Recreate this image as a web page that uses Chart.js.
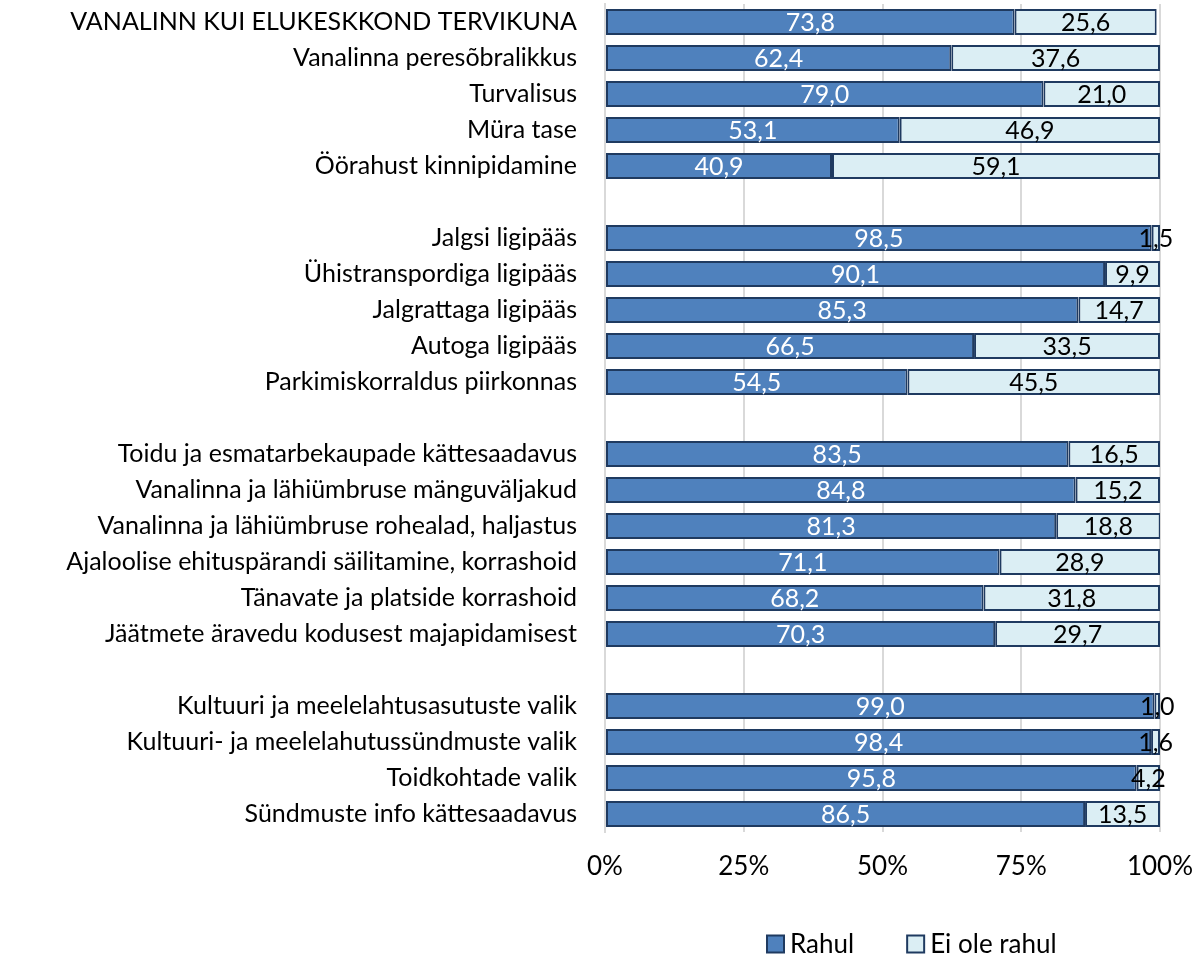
<!DOCTYPE html>
<html>
<head>
<meta charset="utf-8">
<script src="https://cdn.jsdelivr.net/npm/chart.js@4"></script>
<style>
  html, body { margin: 0; padding: 0; background: #fff; }
  #wrap { width: 1196px; height: 956px; }
</style>
</head>
<body>
<div id="wrap"><canvas id="satisfactionChart"></canvas></div>
<script>
// blank labels are the gaps between topic groups
const categories = [
    'VANALINN KUI ELUKESKKOND TERVIKUNA',
    'Vanalinna peresõbralikkus',
    'Turvalisus',
    'Müra tase',
    'Öörahust kinnipidamine',
    '',
    'Jalgsi ligipääs',
    'Ühistranspordiga ligipääs',
    'Jalgrattaga ligipääs',
    'Autoga ligipääs',
    'Parkimiskorraldus piirkonnas',
    '',
    'Toidu ja esmatarbekaupade kättesaadavus',
    'Vanalinna ja lähiümbruse mänguväljakud',
    'Vanalinna ja lähiümbruse rohealad, haljastus',
    'Ajaloolise ehituspärandi säilitamine, korrashoid',
    'Tänavate ja platside korrashoid',
    'Jäätmete äravedu kodusest majapidamisest',
    '',
    'Kultuuri ja meelelahtusasutuste valik',
    'Kultuuri- ja meelelahutussündmuste valik',
    'Toidkohtade valik',
    'Sündmuste info kättesaadavus'
];

const rahul = [73.8, 62.4, 79.0, 53.1, 40.9, null,
    98.5, 90.1, 85.3, 66.5, 54.5, null,
    83.5, 84.8, 81.3, 71.1, 68.2, 70.3, null,
    99.0, 98.4, 95.8, 86.5];

const eiOleRahul = [25.6, 37.6, 21.0, 46.9, 59.1, null,
    1.5, 9.9, 14.7, 33.5, 45.5, null,
    16.5, 15.2, 18.8, 28.9, 31.8, 29.7, null,
    1.0, 1.6, 4.2, 13.5];

const xTicks = [0, 25, 50, 75, 100];

const FONT = 'Lato, "Open Sans", sans-serif';

// writes the value in the middle of each segment, comma as decimal mark
const segmentLabels = {
    id: 'segmentLabels',
    afterDatasetsDraw(chart) {
        const ctx = chart.ctx;
        ctx.save();
        ctx.font = '25px ' + FONT;
        ctx.textAlign = 'center';
        ctx.textBaseline = 'middle';
        chart.data.datasets.forEach((ds, di) => {
            const meta = chart.getDatasetMeta(di);
            meta.data.forEach((bar, i) => {
                const v = ds.data[i];
                if (v === null || v === undefined) return;
                const x = (bar.x + bar.base) / 2;
                ctx.fillStyle = ds.labelColor;
                ctx.fillText(v.toFixed(1).replace('.', ','), x, bar.y + 1);
            });
        });
        ctx.restore();
    }
};

// small legend under the axis, like the original one
const bottomLegend = {
    id: 'bottomLegend',
    afterDraw(chart) {
        const ctx = chart.ctx;
        const box = 17, gapText = 6, gapItem = 53;
        const y = 944;
        let x = 767;
        ctx.save();
        ctx.font = '26px ' + FONT;
        ctx.textBaseline = 'middle';
        chart.data.datasets.forEach(ds => {
            ctx.fillStyle = ds.backgroundColor;
            ctx.fillRect(x, y - box / 2, box, box);
            ctx.strokeStyle = ds.borderColor;
            ctx.lineWidth = 2;
            ctx.strokeRect(x, y - box / 2, box, box);
            x += box + gapText;
            ctx.fillStyle = '#000';
            ctx.fillText(ds.label, x, y + 1);
            x += ctx.measureText(ds.label).width + gapItem;
        });
        ctx.restore();
    }
};

const ctx = document.getElementById('satisfactionChart').getContext('2d');
const chart = new Chart(ctx, {
    type: 'bar',
    data: {
        labels: categories,
        datasets: [{
            label: 'Rahul',
            data: rahul,
            backgroundColor: '#4f81bd',
            borderColor: '#1f3a60',
            borderWidth: 2,
            borderSkipped: false,
            labelColor: '#ffffff'
        }, {
            label: 'Ei ole rahul',
            data: eiOleRahul,
            backgroundColor: '#dbeef4',
            borderColor: '#1f3a60',
            borderWidth: 2,
            borderSkipped: false,
            labelColor: '#000000'
        }]
    },
    options: {
        indexAxis: 'y',
        responsive: true,
        maintainAspectRatio: false,
        animation: false,
        layout: { padding: { top: 4, right: 36, bottom: 0, left: 0 } },
        datasets: {
            bar: { categoryPercentage: 1, barPercentage: 0.72 }
        },
        scales: {
            x: {
                stacked: true,
                min: 0,
                max: 100,
                afterBuildTicks(scale) {
                    scale.ticks = xTicks.map(v => ({ value: v }));
                },
                afterFit(scale) {
                    scale.height = 124;
                    scale.paddingLeft = 0;
                    scale.paddingRight = 0;
                },
                ticks: {
                    padding: 19,
                    color: '#000',
                    font: { family: FONT, size: 26 },
                    callback: v => v + '%'
                },
                grid: { color: '#d9d9d9', lineWidth: 2, drawTicks: false },
                border: { display: false }
            },
            y: {
                stacked: true,
                afterFit(scale) {
                    scale.width = 605;
                    scale.paddingTop = 0;
                    scale.paddingBottom = 0;
                },
                ticks: {
                    padding: 28,
                    color: '#000',
                    autoSkip: false,
                    font: { family: FONT, size: 25 }
                },
                grid: { display: false, drawTicks: false },
                border: { display: true, color: '#d9d9d9', width: 2 }
            }
        },
        plugins: {
            legend: { display: false },
            tooltip: { enabled: false }
        }
    },
    plugins: [segmentLabels, bottomLegend]
});
</script>
</body>
</html>
